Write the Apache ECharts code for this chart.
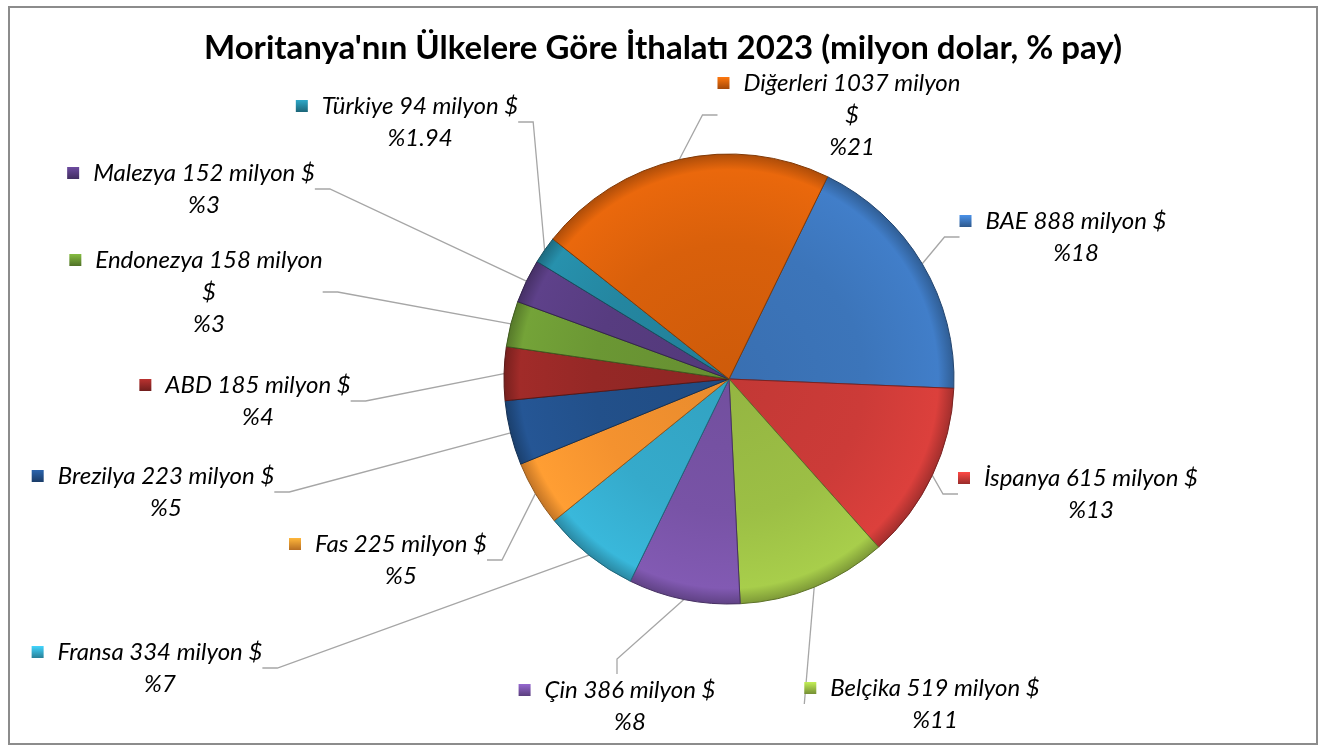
<!DOCTYPE html>
<html>
<head>
<meta charset="utf-8">
<script src="https://cdn.jsdelivr.net/npm/echarts@6/dist/echarts.min.js"></script>
<style>
  html, body { margin: 0; padding: 0; background: #fff; }
  #chart { width: 1326px; height: 751px; }
</style>
</head>
<body>
<div id="chart"></div>
<script>
const chart = echarts.init(document.getElementById("chart"));

const countries = ["BAE", "İspanya", "Belçika", "Çin", "Fransa", "Fas", "Brezilya", "ABD", "Endonezya", "Malezya", "Türkiye", "Diğerleri"];
const values = [888, 615, 519, 386, 334, 225, 223, 185, 158, 152, 94, 1037];
const shares = ["%18", "%13", "%11", "%8", "%7", "%5", "%5", "%4", "%3", "%3", "%1.94", "%21"];
// labels that Excel wrapped before the "$"
const wrapped = [false, false, false, false, false, false, false, false, true, false, false, true];

const colors = ["#3c75ba", "#cc3b38", "#9cbf45", "#7853a6", "#35aacb", "#f4922f", "#22508a", "#952826", "#6b9734", "#573c80", "#2486a0", "#d9600b"];

// label block anchor: [center x, top y]
const labelPos = [
    [1063, 205], [1078, 462], [922, 672], [617, 674],
    [147, 636], [388, 528], [153, 460], [245, 369],
    [196, 244], [191, 157], [407, 90], [839, 67]
];

const pieCenter = [729, 379];
const pieRadius = 225;

function shade(hex, k) {
    const n = parseInt(hex.slice(1), 16);
    const f = c => Math.max(0, Math.min(255, Math.round(c * k)));
    const r = f(n >> 16), g = f((n >> 8) & 255), b = f(n & 255);
    return `rgb(${r},${g},${b})`;
}

const seriesData = countries.map((name, i) => {
    const c = colors[i];
    const first = wrapped[i]
        ? `{m|}{g|}{t|${name} ${values[i]} milyon}\n{s|}{t|$}`
        : `{m|}{g|}{t|${name} ${values[i]} milyon $}`;
    return {
        name: name,
        value: values[i],
        itemStyle: {
            color: {
                type: "radial",
                x: pieCenter[0], y: pieCenter[1], r: pieRadius,
                global: true,
                colorStops: [
                    { offset: 0, color: shade(c, 0.95) },
                    { offset: 0.6, color: c },
                    { offset: 0.93, color: shade(c, 1.08) },
                    { offset: 1, color: shade(c, 0.8) }
                ]
            },
            borderColor: shade(c, 0.6),
            borderWidth: 1
        },
        label: {
            formatter: `${first}\n{s|}{t|${shares[i]}}`,
            rich: {
                m: {
                    width: 12, height: 12,
                    backgroundColor: {
                        type: "linear", x: 0, y: 0, x2: 0, y2: 1,
                        colorStops: [
                            { offset: 0, color: shade(c, 1.25) },
                            { offset: 1, color: shade(c, 0.75) }
                        ]
                    }
                },
                g: { width: 14 },
                s: { width: 26 },
                t: {
                    fontFamily: "Lato", fontStyle: "italic", fontSize: 24,
                    color: "#000", lineHeight: 32
                }
            }
        }
    };
});

const option = {
    backgroundColor: "#fff",
    animation: false,
    title: {
        text: "Moritanya'nın Ülkelere Göre İthalatı 2023 (milyon dolar, % pay)",
        left: "center",
        top: 27,
        textStyle: {
            fontFamily: "Lato",
            fontWeight: "bold",
            fontSize: 33,
            color: "#000"
        }
    },
    graphic: [{
        type: "rect",
        shape: { x: 9, y: 7, width: 1308, height: 737 },
        style: { fill: "none", stroke: "#8c8c8c", lineWidth: 2 },
        silent: true
    }],
    series: [{
        type: "pie",
        center: pieCenter,
        radius: pieRadius,
        startAngle: 64,
        clockwise: true,
        data: seriesData,
        label: {
            show: true,
            position: "outside",
            align: "center",
            lineHeight: 32
        },
        labelLine: {
            show: true,
            length: 20,
            length2: 15,
            lineStyle: { color: "#a6a6a6", width: 1.3 }
        },
        labelLayout: function (params) {
            const p = labelPos[params.dataIndex];
            return {
                x: p[0],
                y: p[1],
                align: "center",
                verticalAlign: "top"
            };
        }
    }]
};

chart.setOption(option);
window.addEventListener("resize", () => chart.resize());
</script>
</body>
</html>
